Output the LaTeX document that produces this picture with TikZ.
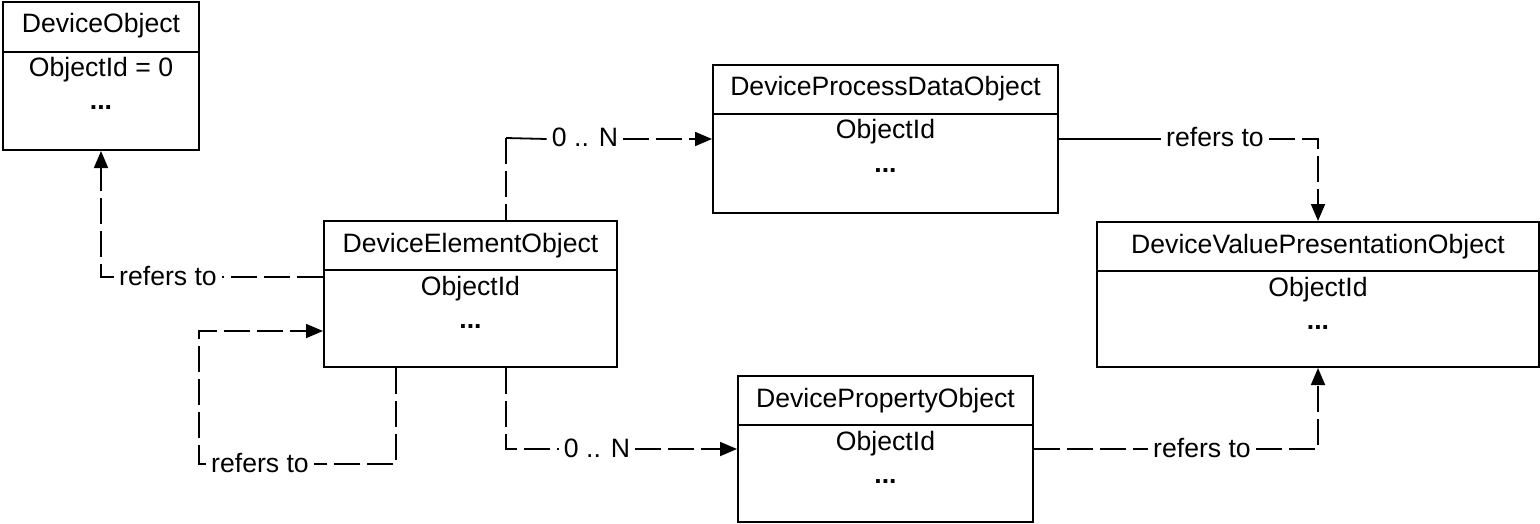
\documentclass[tikz,border=0pt]{standalone}
\usepackage{fontspec}
\setmainfont{Liberation Sans}
\usetikzlibrary{arrows.meta,calc,fit}
\begin{document}
\begin{tikzpicture}[x=0.5pt,y=-0.5pt,
  box/.style={draw=black,line width=1pt,inner sep=0pt},
  divline/.style={draw=black,line width=1pt},
  txt/.style={font=\fontsize{13.3pt}{16pt}\selectfont,inner sep=0pt,anchor=base},
  lbl/.style={font=\fontsize{13.3pt}{16pt}\selectfont,inner xsep=2.5pt,inner ysep=0pt,
              text height=8pt,text depth=0pt},
  conn/.style={draw=black,line width=0.9pt,dash pattern=on 13pt off 3.5pt},
  solidconn/.style={draw=black,line width=0.9pt},
  tip/.style={-{Triangle[length=8.5pt,width=7pt]}}
]
\useasboundingbox (0,0) rectangle (1540,524);

% ---- class boxes: outline, divider, title, attribute, ellipsis ----
\node[box,fit={(3,2)(199,150)}] (DO) {};
\draw[divline] (DO.west |- 0,52) -- (DO.east |- 0,52);
\node[txt] (DOt) at (DO.north |- 0,33) {DeviceObject};
\node[txt] (DOa) at (DO.north |- 0,77) {ObjectId = 0};
\node[txt] (DOd) at (DO.north |- 0,110) {\textbf{...}};

\node[box,fit={(324,221)(617,367)}] (DEO) {};
\draw[divline] (DEO.west |- 0,270) -- (DEO.east |- 0,270);
\node[txt] (DEOt) at (DEO.north |- 0,252) {DeviceElementObject};
\node[txt] (DEOa) at (DEO.north |- 0,295) {ObjectId};
\node[txt] (DEOd) at (DEO.north |- 0,328) {\textbf{...}};

\node[box,fit={(713,65)(1058,213)}] (DPDO) {};
\draw[divline] (DPDO.west |- 0,114) -- (DPDO.east |- 0,114);
\node[txt] (DPDOt) at (DPDO.north |- 0,96) {DeviceProcessDataObject};
\node[txt] (DPDOa) at (DPDO.north |- 0,139) {ObjectId};
\node[txt] (DPDOd) at (DPDO.north |- 0,172) {\textbf{...}};

\node[box,fit={(1097,222)(1539,367)}] (DVPO) {};
\draw[divline] (DVPO.west |- 0,271) -- (DVPO.east |- 0,271);
\node[txt] (DVPOt) at (DVPO.north |- 0,253) {DeviceValuePresentationObject};
\node[txt] (DVPOa) at (DVPO.north |- 0,296) {ObjectId};
\node[txt] (DVPOd) at (DVPO.north |- 0,329) {\textbf{...}};

\node[box,fit={(738,376)(1033,522)}] (DPO) {};
\draw[divline] (DPO.west |- 0,425) -- (DPO.east |- 0,425);
\node[txt] (DPOt) at (DPO.north |- 0,407) {DevicePropertyObject};
\node[txt] (DPOa) at (DPO.north |- 0,450) {ObjectId};
\node[txt] (DPOd) at (DPO.north |- 0,483) {\textbf{...}};

% ---- connector labels ----
\node[lbl] (l1) at (168,277) {refers to};
\node[lbl] (l2) at (260,464) {refers to};
\node[lbl] (l3) at (585,139) {0 .. N};
\node[lbl] (l4) at (597,449) {0 .. N};
\node[lbl] (l5) at (1215,139) {refers to};
\node[lbl] (l6) at (1202,449) {refers to};

% element -> device object
\draw[conn] (DEO.west |- l1) -- (l1.east);
\draw[conn,tip] (l1.west) -| (DO.south);

% element -> element (self reference)
\draw[conn] ($(DEO.south west)+(73,0)$) |- (l2.east);
\draw[conn,tip] (l2.west) -| (199,331) -- (DEO.west |- 0,331);

% element -> process data objects
\draw[conn] ($(DEO.north west)+(183,-82)$) -- ($(DEO.north west)+(183,0)$);
\draw[solidconn] ($(DEO.north west)+(183,-82)$) -- (l3.west);
\draw[conn,tip] (l3.east) -- (DPDO.west);

% element -> property objects
\draw[conn] ($(DEO.south west)+(183,0)$) |- (l4.west);
\draw[conn,tip] (l4.east) -- (DPO.west);

% process data object -> value presentation
\draw[solidconn] (DPDO.east) -- (l5.west);
\draw[conn,tip] (l5.east) -| (DVPO.north);

% property object -> value presentation
\draw[conn] (DPO.east) -- (l6.west);
\draw[conn,tip] (l6.east) -| (DVPO.south);
\end{tikzpicture}
\end{document}
